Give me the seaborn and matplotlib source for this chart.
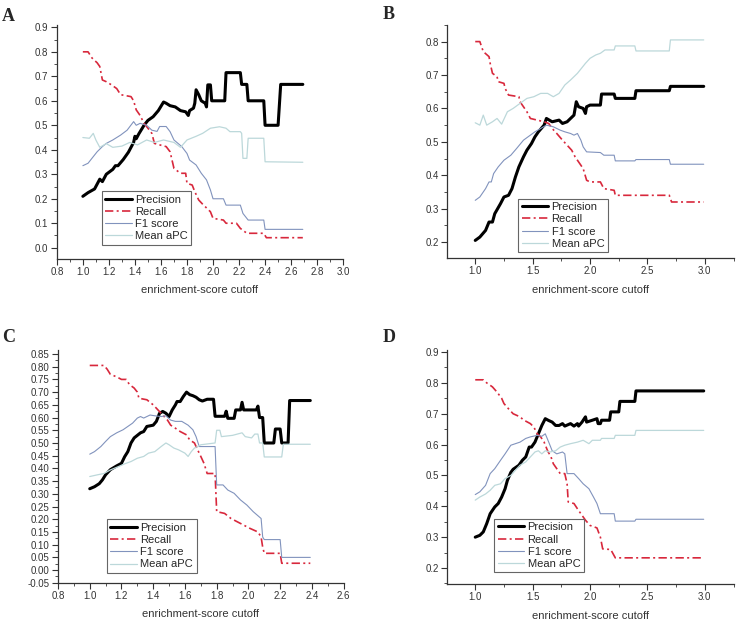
import matplotlib.pyplot as plt
import pandas as pd
import seaborn as sns
from matplotlib.ticker import MultipleLocator, FormatStrFormatter

sns.set_style("ticks")
plt.rcParams["font.family"] = ["Liberation Sans", "DejaVu Sans"]

# =============================================================================
# Values: (enrichment-score cutoff, value)
# =============================================================================
a_precision = [(1.00, 0.21), (1.04, 0.225), (1.09, 0.24), (1.12, 0.27), (1.13, 0.28), (1.15, 0.27),
               (1.18, 0.30), (1.23, 0.32), (1.25, 0.335), (1.27, 0.335), (1.31, 0.36), (1.35, 0.39),
               (1.38, 0.42), (1.39, 0.43), (1.40, 0.455), (1.41, 0.445), (1.43, 0.465), (1.47, 0.50),
               (1.50, 0.52), (1.54, 0.535), (1.58, 0.56), (1.62, 0.595), (1.64, 0.59), (1.67, 0.58),
               (1.71, 0.575), (1.75, 0.56), (1.79, 0.555), (1.81, 0.54), (1.82, 0.56), (1.85, 0.57),
               (1.86, 0.59), (1.87, 0.645), (1.89, 0.625), (1.91, 0.60), (1.94, 0.59), (1.95, 0.575),
               (1.96, 0.665), (1.98, 0.665), (1.99, 0.60), (2.09, 0.60), (2.10, 0.715), (2.21, 0.715),
               (2.22, 0.667), (2.26, 0.667), (2.27, 0.60), (2.39, 0.60), (2.40, 0.50), (2.50, 0.50),
               (2.52, 0.667), (2.69, 0.667)]
a_recall = [(1.00, 0.80), (1.04, 0.80), (1.07, 0.775), (1.11, 0.755), (1.13, 0.74), (1.15, 0.685),
            (1.18, 0.678), (1.22, 0.665), (1.26, 0.65), (1.29, 0.625), (1.37, 0.617), (1.39, 0.60),
            (1.41, 0.563), (1.44, 0.54), (1.47, 0.508), (1.50, 0.488), (1.53, 0.467), (1.55, 0.426),
            (1.59, 0.42), (1.64, 0.413), (1.67, 0.392), (1.70, 0.324), (1.75, 0.304), (1.79, 0.304),
            (1.80, 0.263), (1.84, 0.256), (1.86, 0.229), (1.89, 0.195), (1.92, 0.178), (1.98, 0.147),
            (2.00, 0.12), (2.08, 0.113), (2.10, 0.10), (2.18, 0.10), (2.21, 0.079), (2.26, 0.059),
            (2.39, 0.059), (2.41, 0.041), (2.69, 0.041)]
a_f1 = [(1.00, 0.335), (1.04, 0.345), (1.08, 0.372), (1.11, 0.392), (1.15, 0.413), (1.18, 0.426),
        (1.23, 0.44), (1.29, 0.46), (1.34, 0.48), (1.39, 0.515), (1.41, 0.50), (1.44, 0.508),
        (1.49, 0.50), (1.53, 0.48), (1.57, 0.475), (1.59, 0.495), (1.64, 0.495), (1.67, 0.474),
        (1.70, 0.44), (1.76, 0.413), (1.80, 0.385), (1.82, 0.358), (1.87, 0.338), (1.91, 0.304),
        (1.95, 0.277), (1.98, 0.236), (2.00, 0.20), (2.08, 0.20), (2.10, 0.174), (2.21, 0.174),
        (2.23, 0.14), (2.27, 0.113), (2.39, 0.113), (2.40, 0.075), (2.69, 0.075)]
a_apc = [(1.00, 0.45), (1.05, 0.447), (1.08, 0.467), (1.10, 0.44), (1.13, 0.41), (1.18, 0.425),
         (1.23, 0.41), (1.30, 0.415), (1.36, 0.43), (1.42, 0.42), (1.49, 0.44), (1.55, 0.43),
         (1.62, 0.44), (1.70, 0.43), (1.75, 0.41), (1.80, 0.44), (1.87, 0.455), (1.92, 0.467),
         (1.98, 0.488), (2.05, 0.494), (2.10, 0.488), (2.13, 0.474), (2.21, 0.474), (2.22, 0.467),
         (2.23, 0.365), (2.26, 0.365), (2.27, 0.447), (2.39, 0.447), (2.40, 0.351), (2.69, 0.349)]

b_precision = [(1.00, 0.205), (1.04, 0.215), (1.09, 0.235), (1.12, 0.26), (1.15, 0.26), (1.17, 0.285),
               (1.22, 0.315), (1.25, 0.335), (1.29, 0.34), (1.32, 0.36), (1.35, 0.395), (1.38, 0.425),
               (1.42, 0.455), (1.45, 0.475), (1.49, 0.495), (1.52, 0.515), (1.55, 0.53), (1.60, 0.55),
               (1.62, 0.57), (1.67, 0.56), (1.73, 0.565), (1.76, 0.555), (1.80, 0.56), (1.83, 0.57),
               (1.86, 0.58), (1.88, 0.62), (1.90, 0.605), (1.94, 0.60), (1.96, 0.585), (1.97, 0.605),
               (2.00, 0.61), (2.09, 0.61), (2.10, 0.643), (2.21, 0.643), (2.22, 0.63), (2.39, 0.63),
               (2.40, 0.653), (2.69, 0.653), (2.70, 0.666), (2.99, 0.666)]
b_recall = [(1.00, 0.80), (1.04, 0.80), (1.07, 0.77), (1.12, 0.755), (1.13, 0.735), (1.15, 0.705),
            (1.19, 0.695), (1.20, 0.68), (1.25, 0.675), (1.26, 0.66), (1.29, 0.64), (1.38, 0.635),
            (1.39, 0.62), (1.42, 0.605), (1.45, 0.59), (1.48, 0.57), (1.60, 0.56), (1.64, 0.555),
            (1.67, 0.54), (1.71, 0.525), (1.76, 0.505), (1.80, 0.49), (1.84, 0.475), (1.87, 0.455),
            (1.90, 0.44), (1.94, 0.42), (1.97, 0.385), (2.00, 0.38), (2.09, 0.38), (2.12, 0.36),
            (2.21, 0.355), (2.22, 0.34), (2.69, 0.34), (2.71, 0.32), (2.99, 0.32)]
b_f1 = [(1.00, 0.325), (1.04, 0.335), (1.09, 0.36), (1.12, 0.38), (1.14, 0.38), (1.16, 0.405),
        (1.20, 0.425), (1.25, 0.445), (1.31, 0.46), (1.36, 0.48), (1.42, 0.505), (1.48, 0.52),
        (1.52, 0.53), (1.57, 0.54), (1.62, 0.55), (1.68, 0.545), (1.74, 0.535), (1.78, 0.53),
        (1.83, 0.525), (1.86, 0.52), (1.89, 0.525), (1.92, 0.505), (1.94, 0.485), (1.97, 0.47),
        (2.09, 0.468), (2.12, 0.46), (2.21, 0.46), (2.22, 0.443), (2.39, 0.443), (2.40, 0.447),
        (2.69, 0.447), (2.70, 0.433), (2.99, 0.433)]
b_apc = [(1.00, 0.557), (1.04, 0.55), (1.07, 0.58), (1.10, 0.55), (1.15, 0.56), (1.19, 0.57),
         (1.23, 0.553), (1.28, 0.59), (1.33, 0.60), (1.39, 0.615), (1.45, 0.63), (1.51, 0.635),
         (1.57, 0.645), (1.63, 0.645), (1.68, 0.635), (1.73, 0.645), (1.78, 0.67), (1.83, 0.685),
         (1.89, 0.705), (1.96, 0.735), (2.00, 0.75), (2.05, 0.76), (2.09, 0.765), (2.13, 0.775),
         (2.21, 0.775), (2.22, 0.787), (2.39, 0.787), (2.40, 0.772), (2.69, 0.772), (2.70, 0.805),
         (2.99, 0.805)]

c_precision = [(1.00, 0.32), (1.03, 0.328), (1.06, 0.34), (1.08, 0.355), (1.10, 0.375), (1.13, 0.395),
               (1.17, 0.41), (1.20, 0.42), (1.22, 0.446), (1.24, 0.466), (1.26, 0.50), (1.28, 0.52),
               (1.30, 0.53), (1.32, 0.54), (1.34, 0.545), (1.36, 0.565), (1.40, 0.57), (1.42, 0.585),
               (1.44, 0.617), (1.46, 0.624), (1.48, 0.617), (1.50, 0.604), (1.52, 0.63), (1.54, 0.65),
               (1.55, 0.663), (1.57, 0.663), (1.59, 0.683), (1.61, 0.70), (1.63, 0.69), (1.65, 0.686),
               (1.67, 0.68), (1.69, 0.67), (1.71, 0.665), (1.74, 0.672), (1.78, 0.672), (1.79, 0.605),
               (1.85, 0.605), (1.86, 0.625), (1.87, 0.597), (1.91, 0.597), (1.92, 0.63), (1.95, 0.63),
               (1.96, 0.66), (1.97, 0.63), (2.05, 0.63), (2.06, 0.645), (2.07, 0.60), (2.09, 0.60),
               (2.10, 0.50), (2.16, 0.50), (2.17, 0.555), (2.20, 0.555), (2.21, 0.50), (2.25, 0.50),
               (2.26, 0.667), (2.39, 0.667)]
c_recall = [(1.00, 0.805), (1.09, 0.805), (1.11, 0.79), (1.13, 0.77), (1.17, 0.76), (1.20, 0.75),
            (1.23, 0.75), (1.25, 0.73), (1.28, 0.716), (1.30, 0.70), (1.31, 0.676), (1.36, 0.67),
            (1.40, 0.65), (1.43, 0.63), (1.46, 0.61), (1.49, 0.59), (1.51, 0.57), (1.54, 0.558),
            (1.57, 0.545), (1.61, 0.532), (1.63, 0.512), (1.66, 0.50), (1.68, 0.473), (1.70, 0.447),
            (1.72, 0.42), (1.73, 0.40), (1.74, 0.38), (1.79, 0.38), (1.80, 0.23), (1.85, 0.223),
            (1.89, 0.203), (1.93, 0.19), (1.97, 0.177), (2.01, 0.164), (2.06, 0.15), (2.08, 0.13),
            (2.09, 0.09), (2.10, 0.066), (2.20, 0.066), (2.21, 0.027), (2.39, 0.027)]
c_f1 = [(1.00, 0.456), (1.03, 0.466), (1.07, 0.486), (1.10, 0.506), (1.13, 0.525), (1.17, 0.54),
        (1.21, 0.552), (1.24, 0.565), (1.27, 0.578), (1.30, 0.598), (1.32, 0.604), (1.34, 0.598),
        (1.38, 0.61), (1.41, 0.607), (1.45, 0.604), (1.48, 0.607), (1.51, 0.59), (1.54, 0.585),
        (1.58, 0.585), (1.62, 0.57), (1.65, 0.552), (1.67, 0.525), (1.69, 0.486), (1.79, 0.486),
        (1.80, 0.335), (1.84, 0.335), (1.87, 0.315), (1.91, 0.302), (1.95, 0.276), (1.99, 0.256),
        (2.03, 0.23), (2.08, 0.203), (2.09, 0.13), (2.10, 0.12), (2.20, 0.12), (2.21, 0.05),
        (2.39, 0.05)]
c_apc = [(1.00, 0.368), (1.05, 0.375), (1.09, 0.38), (1.13, 0.394), (1.18, 0.407), (1.22, 0.418),
         (1.26, 0.427), (1.30, 0.44), (1.34, 0.447), (1.37, 0.46), (1.41, 0.466), (1.45, 0.486),
         (1.48, 0.50), (1.50, 0.493), (1.53, 0.48), (1.56, 0.473), (1.60, 0.46), (1.62, 0.447),
         (1.64, 0.466), (1.66, 0.48), (1.70, 0.493), (1.79, 0.50), (1.80, 0.55), (1.82, 0.55),
         (1.83, 0.525), (1.90, 0.53), (1.93, 0.535), (1.96, 0.54), (1.98, 0.525), (2.02, 0.52),
         (2.04, 0.535), (2.06, 0.535), (2.07, 0.50), (2.09, 0.50), (2.10, 0.445), (2.21, 0.445),
         (2.22, 0.495), (2.39, 0.495)]

d_precision = [(1.00, 0.30), (1.04, 0.306), (1.07, 0.317), (1.10, 0.344), (1.13, 0.376), (1.17, 0.398),
               (1.20, 0.409), (1.23, 0.43), (1.26, 0.457), (1.28, 0.484), (1.31, 0.51), (1.33, 0.52),
               (1.38, 0.533), (1.41, 0.549), (1.44, 0.56), (1.47, 0.592), (1.49, 0.592), (1.52, 0.608),
               (1.55, 0.635), (1.58, 0.662), (1.61, 0.684), (1.64, 0.678), (1.67, 0.673), (1.70, 0.662),
               (1.73, 0.662), (1.76, 0.668), (1.78, 0.66), (1.83, 0.668), (1.86, 0.66), (1.89, 0.668),
               (1.90, 0.66), (1.93, 0.673), (1.96, 0.69), (1.97, 0.673), (2.02, 0.679), (2.06, 0.684),
               (2.07, 0.668), (2.09, 0.668), (2.10, 0.679), (2.17, 0.679), (2.18, 0.706), (2.25, 0.706),
               (2.26, 0.74), (2.39, 0.74), (2.40, 0.774), (2.99, 0.774)]
d_recall = [(1.00, 0.81), (1.07, 0.81), (1.10, 0.80), (1.15, 0.787), (1.19, 0.77), (1.23, 0.75),
            (1.25, 0.733), (1.29, 0.716), (1.33, 0.70), (1.39, 0.69), (1.42, 0.68), (1.48, 0.668),
            (1.51, 0.657), (1.54, 0.635), (1.57, 0.625), (1.60, 0.608), (1.63, 0.58), (1.66, 0.56),
            (1.68, 0.538), (1.71, 0.522), (1.74, 0.506), (1.78, 0.506), (1.80, 0.473), (1.81, 0.414),
            (1.86, 0.409), (1.89, 0.392), (1.92, 0.376), (1.96, 0.355), (2.00, 0.338), (2.06, 0.33),
            (2.09, 0.30), (2.11, 0.262), (2.18, 0.26), (2.22, 0.233), (2.99, 0.233)]
d_f1 = [(1.00, 0.438), (1.04, 0.447), (1.09, 0.468), (1.13, 0.506), (1.17, 0.522), (1.22, 0.549),
        (1.26, 0.57), (1.31, 0.598), (1.35, 0.603), (1.39, 0.608), (1.44, 0.62), (1.48, 0.625),
        (1.54, 0.63), (1.58, 0.627), (1.61, 0.635), (1.64, 0.608), (1.67, 0.58), (1.71, 0.57),
        (1.76, 0.576), (1.78, 0.57), (1.80, 0.506), (1.86, 0.506), (1.90, 0.49), (1.94, 0.473),
        (1.99, 0.457), (2.03, 0.43), (2.06, 0.409), (2.09, 0.376), (2.21, 0.376), (2.22, 0.352),
        (2.39, 0.352), (2.40, 0.358), (2.99, 0.358)]
d_apc = [(1.00, 0.42), (1.04, 0.43), (1.09, 0.44), (1.13, 0.452), (1.17, 0.468), (1.22, 0.473),
         (1.26, 0.49), (1.31, 0.50), (1.35, 0.517), (1.39, 0.533), (1.44, 0.544), (1.48, 0.56),
         (1.52, 0.576), (1.55, 0.58), (1.58, 0.57), (1.61, 0.58), (1.65, 0.576), (1.70, 0.58),
         (1.74, 0.592), (1.78, 0.598), (1.83, 0.603), (1.89, 0.608), (1.94, 0.614), (1.99, 0.603),
         (2.02, 0.614), (2.09, 0.614), (2.10, 0.62), (2.21, 0.62), (2.22, 0.63), (2.39, 0.63),
         (2.40, 0.646), (2.99, 0.646)]

series_names = ["Precision", "Recall", "F1 score", "Mean aPC"]
panel_labels = ["A", "B", "C", "D"]
panel_data = [
    [a_precision, a_recall, a_f1, a_apc],
    [b_precision, b_recall, b_f1, b_apc],
    [c_precision, c_recall, c_f1, c_apc],
    [d_precision, d_recall, d_f1, d_apc],
]

# =============================================================================
# Styling / layout
# =============================================================================
line_styles = {
    "Precision": dict(color="black", linewidth=2.2, linestyle="-"),
    "Recall": dict(color="#d8283c", linewidth=1.2, linestyle=(0, (5, 2, 1.2, 2))),
    "F1 score": dict(color="#8193bd", linewidth=0.8, linestyle="-"),
    "Mean aPC": dict(color="#bcd8da", linewidth=0.9, linestyle="-"),
}

# axes rect, limits, major tick steps, y format, legend anchor, panel-letter position
panel_layout = [
    dict(rect=[0.077, 0.584, 0.388, 0.376], xlim=(0.8, 3.0), ylim=(-0.045, 0.91),
         xmaj=0.2, ymaj=0.1, yfmt="%.1f", leg=(0.157, 0.06), letter=(0.003, 0.974)),
    dict(rect=[0.606, 0.585, 0.388, 0.375], xlim=(0.756, 3.25), ylim=(0.152, 0.85),
         xmaj=0.5, ymaj=0.1, yfmt="%.1f", leg=(0.248, 0.026), letter=(0.519, 0.976)),
    dict(rect=[0.0786, 0.063, 0.387, 0.374], xlim=(0.8, 2.6), ylim=(-0.05, 0.865),
         xmaj=0.2, ymaj=0.05, yfmt="%.2f", leg=(0.172, 0.043), letter=(0.003, 0.458)),
    dict(rect=[0.606, 0.061, 0.388, 0.376], xlim=(0.756, 3.25), ylim=(0.148, 0.906),
         xmaj=0.5, ymaj=0.1, yfmt="%.1f", leg=(0.164, 0.05), letter=(0.519, 0.457)),
]

fig = plt.figure(figsize=(7.38, 6.22), dpi=100)

for label, series_list, lay in zip(panel_labels, panel_data, panel_layout):
    ax = fig.add_axes(lay["rect"])
    for name, pts in zip(series_names, series_list):
        df = pd.DataFrame(pts, columns=["cutoff", "value"])
        sns.lineplot(data=df, x="cutoff", y="value", ax=ax, sort=False, estimator=None,
                     label=name, **line_styles[name])

    ax.set_xlim(*lay["xlim"])
    ax.set_ylim(*lay["ylim"])
    ax.xaxis.set_major_locator(MultipleLocator(lay["xmaj"]))
    ax.xaxis.set_minor_locator(MultipleLocator(lay["xmaj"] / 2))
    ax.yaxis.set_major_locator(MultipleLocator(lay["ymaj"]))
    ax.yaxis.set_minor_locator(MultipleLocator(lay["ymaj"] / 2))
    ax.xaxis.set_major_formatter(FormatStrFormatter("%.1f"))
    ax.yaxis.set_major_formatter(FormatStrFormatter(lay["yfmt"]))
    ax.tick_params(which="major", direction="out", length=4, width=0.8,
                   labelsize=7, pad=2, colors="#333333", labelcolor="#333333")
    ax.tick_params(which="minor", direction="out", length=2, width=0.6, colors="#333333")

    sns.despine(ax=ax)
    for side in ["left", "bottom"]:
        ax.spines[side].set_linewidth(0.9)
        ax.spines[side].set_color("#333333")

    ax.set_xlabel("enrichment-score cutoff", fontsize=8, labelpad=6, color="#333333")
    ax.set_ylabel("")

    leg = ax.legend(loc="lower left", bbox_to_anchor=lay["leg"], fontsize=8,
                    frameon=True, fancybox=False, framealpha=1, edgecolor="#666666",
                    handlelength=2.4, handletextpad=0.3, labelspacing=0.2,
                    borderpad=0.3, borderaxespad=0)
    leg.get_frame().set_linewidth(0.8)

    fig.text(lay["letter"][0], lay["letter"][1], label, fontsize=13, fontweight="bold",
             family=["Liberation Serif", "DejaVu Serif"], ha="left", va="center")

fig.savefig("out.png", dpi=100)
